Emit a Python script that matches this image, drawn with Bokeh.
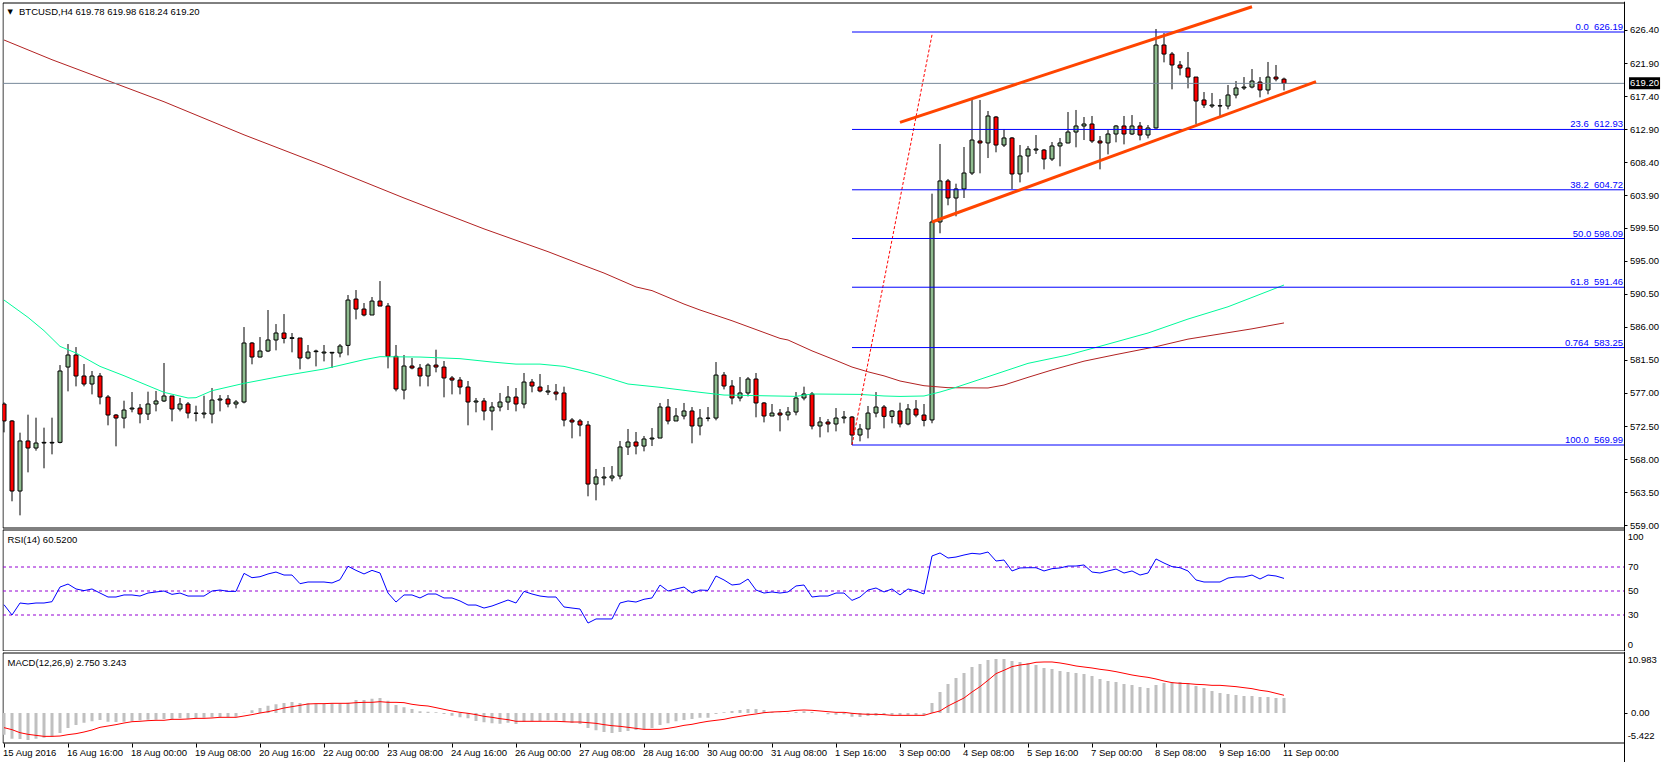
from bokeh.core.properties import value
from bokeh.embed import file_html
from bokeh.resources import INLINE
from bokeh.plotting import figure
from bokeh.layouts import column
from bokeh.models import (ColumnDataSource, FixedTicker, Label, LabelSet, LinearAxis, Range1d,
                          NumeralTickFormatter)

opens = [575.57,573.26,563.73,570.54,569.58,570.26,570.26,570.35,580.60,582.24,
 579.38,578.29,579.38,576.52,574.07,573.66,574.89,575.02,574.21,575.57,
 575.98,576.66,574.89,575.57,574.30,574.21,574.21,576.11,576.25,575.57,
 575.84,583.87,581.96,582.78,584.28,585.23,584.50,584.55,581.83,582.69,
 582.51,582.51,582.51,583.55,589.85,588.49,587.68,589.58,588.90,582.05,
 577.47,580.74,580.47,579.38,580.87,580.60,579.11,578.83,577.88,575.84,
 575.98,574.62,575.16,575.84,576.52,575.57,578.56,577.88,577.20,577.20,
 577.07,573.39,573.26,572.71,564.68,565.50,565.50,565.77,569.72,570.40,
 569.85,570.81,570.94,575.16,573.26,573.94,574.62,572.58,573.62,573.66,
 579.51,578.02,576.39,577.07,578.97,575.71,573.94,574.34,574.07,574.48,
 576.39,576.93,572.58,573.12,572.85,573.66,573.80,571.35,572.17,574.34,
 575.16,573.89,574.62,572.85,574.89,574.07,573.40,600.34,605.92,603.60,
 604.83,607.00,611.36,611.09,614.62,610.81,611.77,606.87,609.32,610.13,
 610.13,608.91,610.68,611.09,612.58,613.40,613.67,611.36,611.09,612.31,
 613.40,612.31,613.40,612.17,613.13,624.42,623.19,621.70,621.29,620.06,
 616.94,616.12,616.12,616.12,617.62,618.57,618.70,619.38,618.30,620.06,
 619.78]
closes = [573.26,563.73,570.54,569.58,570.26,570.35,570.35,580.06,582.24,579.38,
 578.29,579.38,576.52,574.07,573.66,574.75,575.02,574.21,575.57,575.98,
 576.66,574.89,575.57,574.34,574.34,574.34,576.11,576.25,575.57,575.84,
 583.87,581.96,582.78,584.28,585.23,584.50,584.59,581.83,582.64,582.78,
 582.64,582.60,583.46,589.72,588.49,587.68,589.58,588.90,582.05,577.61,
 580.74,580.47,579.38,580.87,580.60,579.11,578.83,577.88,575.84,575.98,
 574.62,575.16,575.84,576.52,575.57,578.56,578.02,577.34,577.34,576.93,
 573.39,573.12,572.71,564.68,565.64,565.64,565.77,569.72,570.40,569.85,
 570.81,570.94,575.16,573.26,573.94,574.62,572.58,573.66,573.66,579.51,
 578.02,576.39,577.07,578.97,575.71,573.94,574.34,574.07,574.48,576.39,
 576.93,572.58,573.12,572.85,573.66,573.80,571.35,572.17,574.34,575.16,
 573.89,574.62,572.85,574.89,574.07,573.35,600.34,605.92,603.60,604.83,
 607.00,611.49,611.09,614.76,610.81,611.77,606.87,609.32,610.27,610.27,
 608.91,610.68,611.09,612.58,613.40,613.67,611.36,611.09,612.31,613.40,
 612.31,613.40,612.17,613.13,624.42,623.19,621.70,621.29,620.06,616.80,
 616.26,616.26,616.16,617.62,618.57,618.70,619.52,618.30,620.06,619.79,
 619.20]
highs = [575.80,573.39,571.67,574.12,573.71,572.35,573.71,580.87,583.73,583.32,
 581.01,580.06,579.79,576.79,574.21,576.02,577.20,575.57,577.25,577.34,
 581.15,576.66,576.39,575.84,575.34,576.70,577.75,576.79,576.79,576.11,
 586.04,584.00,584.68,588.36,586.45,587.81,585.23,584.55,583.60,582.96,
 583.60,582.64,583.73,590.40,591.08,589.31,590.13,592.30,589.31,583.60,
 582.24,581.83,581.01,581.10,582.96,581.42,579.38,579.24,578.70,576.39,
 576.39,575.84,577.07,578.02,577.75,579.79,578.97,579.65,578.15,578.29,
 577.93,573.66,573.53,573.26,566.73,567.00,567.13,570.54,572.17,571.76,
 571.22,572.30,575.71,576.25,575.02,575.71,575.16,574.89,575.16,581.28,
 579.92,578.83,579.24,579.24,579.79,575.84,575.57,574.89,575.16,577.20,
 577.93,577.20,573.80,573.53,575.02,574.62,573.94,572.85,575.30,577.20,
 575.43,574.75,575.75,575.57,576.11,575.57,604.19,610.95,606.19,605.55,
 610.54,616.94,616.94,615.44,614.76,612.99,611.90,610.81,610.68,612.17,
 610.27,611.22,611.77,615.30,615.58,614.62,614.76,612.04,612.85,613.53,
 614.76,614.89,613.94,613.53,626.60,626.05,623.47,622.24,623.47,620.06,
 618.02,617.89,617.07,618.98,619.52,620.06,621.15,620.06,622.11,621.70,
 619.98]
lows = [571.71,562.33,560.42,566.27,569.22,566.82,568.72,570.22,577.29,577.97,
 577.97,576.88,575.52,572.67,569.81,572.26,574.44,572.94,573.39,574.57,
 575.84,573.21,574.57,573.62,573.21,573.62,572.94,574.57,575.12,574.98,
 575.66,580.97,581.92,582.64,582.87,583.82,582.60,580.29,581.65,580.69,
 581.37,580.47,581.92,582.19,587.09,587.50,587.68,588.90,580.42,577.29,
 576.20,580.29,577.97,577.97,579.88,576.48,576.88,576.88,572.67,574.44,
 573.35,571.99,574.57,574.75,574.57,574.98,577.16,577.16,576.79,576.07,
 572.53,570.90,571.17,563.01,562.46,564.50,565.05,565.32,568.63,568.72,
 569.13,569.85,570.94,572.80,573.26,573.48,570.22,571.31,573.21,573.35,
 577.56,575.52,575.93,576.61,573.76,573.07,573.94,571.85,573.35,574.03,
 576.07,572.12,571.03,571.71,571.85,572.94,569.99,570.49,570.90,573.76,
 572.26,572.94,572.39,572.67,573.76,572.53,572.95,598.80,602.61,601.11,
 603.60,606.73,606.96,609.04,609.82,610.54,604.83,605.73,607.09,609.59,
 607.50,608.64,607.91,611.04,610.50,611.49,611.09,607.50,609.54,611.18,
 610.90,612.17,611.45,611.72,613.04,622.06,618.39,620.29,618.52,613.67,
 615.85,615.85,614.76,615.67,617.16,618.30,618.52,617.30,617.71,619.48,
 618.24]

rsi_values = [38.6,30.0,40.0,39.2,40.0,40.0,41.1,53.3,55.8,51.7,
 50.3,51.7,48.3,45.0,45.0,46.7,46.7,45.8,48.3,49.2,
 50.0,47.2,48.3,45.8,45.8,45.8,50.0,50.8,49.7,49.7,
 64.7,61.1,61.9,64.2,65.8,63.3,63.3,56.1,57.5,57.5,
 57.5,56.7,59.4,70.6,67.2,64.2,67.2,65.0,48.3,40.8,
 46.7,46.7,44.2,47.5,47.5,44.2,44.2,41.7,38.3,38.3,
 35.8,37.5,40.0,42.5,40.0,49.7,47.5,45.8,45.0,45.0,
 36.7,35.8,35.0,23.3,26.7,26.7,26.7,40.0,41.7,40.8,
 43.1,44.2,55.0,50.0,51.7,53.3,48.3,50.8,50.5,62.5,
 59.2,55.0,55.8,60.0,50.8,48.3,49.2,48.3,49.2,54.2,
 55.0,45.0,45.8,45.8,48.3,48.3,42.2,45.0,50.8,52.5,
 49.2,51.7,46.7,51.7,50.0,47.5,79.2,81.7,77.5,78.3,
 80.0,81.4,80.8,82.5,75.0,75.8,66.7,69.2,69.4,69.4,
 66.7,68.6,69.2,70.8,70.8,71.7,65.8,65.0,66.7,68.3,
 65.0,66.7,63.3,65.0,76.7,73.3,70.3,69.4,66.7,59.2,
 57.5,57.5,57.5,60.8,61.7,61.7,63.3,60.0,63.3,62.5,
 60.52]

macd_hist = [-3.96,-4.70,-4.76,-4.94,-4.70,-4.51,-4.33,-3.66,-2.74,-2.20,
 -1.77,-1.52,-1.28,-1.59,-1.65,-1.59,-1.46,-1.34,-1.22,-1.22,
 -1.10,-1.16,-0.98,-1.04,-0.91,-0.85,-0.79,-0.79,-0.73,-0.67,
 0.06,0.49,0.91,1.34,1.59,1.83,2.01,1.83,1.77,1.65,
 1.65,1.77,1.77,1.89,2.38,2.38,2.62,2.74,2.26,1.46,
 1.04,0.73,0.30,0.24,0.12,-0.18,-0.49,-0.79,-0.98,-1.46,
 -1.71,-1.89,-1.95,-1.77,-2.01,-1.59,-1.52,-1.46,-1.34,-1.34,
 -1.65,-1.83,-2.01,-2.74,-3.17,-3.48,-3.66,-3.48,-3.29,-3.11,
 -2.99,-2.74,-2.20,-1.89,-1.52,-1.28,-1.10,-0.85,-0.85,-0.18,
 0.12,0.37,0.55,0.73,0.73,0.55,0.18,0.06,-0.06,0.18,
 0.30,0.18,0.00,-0.24,-0.30,-0.24,-0.67,-0.73,-0.55,-0.49,
 -0.37,-0.37,-0.37,-0.37,-0.37,-0.37,1.83,3.84,5.31,6.40,
 7.32,8.41,8.96,9.70,9.88,9.88,9.51,9.33,9.15,8.78,
 8.23,8.05,7.68,7.50,7.32,7.13,6.77,6.22,5.85,5.67,
 5.31,5.12,4.76,4.57,5.12,5.49,5.67,5.67,5.49,4.94,
 4.57,4.02,3.66,3.48,3.29,3.11,3.11,2.93,2.93,2.74,
 2.75]
macd_signal = [-2.68,-3.05,-3.60,-3.90,-4.09,-4.27,-4.27,-4.21,-3.96,-3.78,
 -3.48,-3.11,-2.62,-2.38,-2.13,-1.83,-1.59,-1.52,-1.40,-1.34,
 -1.34,-1.16,-1.16,-1.10,-0.98,-0.98,-0.91,-0.79,-0.79,-0.79,
 -0.55,-0.30,0.00,0.24,0.55,0.91,1.16,1.40,1.65,1.71,
 1.71,1.77,1.77,1.77,1.89,1.95,1.95,2.07,1.95,1.95,
 1.89,1.59,1.40,1.28,0.98,0.67,0.37,0.12,-0.06,-0.30,
 -0.61,-0.79,-1.04,-1.22,-1.52,-1.52,-1.52,-1.52,-1.52,-1.52,
 -1.59,-1.65,-1.65,-1.77,-1.89,-2.13,-2.32,-2.44,-2.62,-2.81,
 -2.99,-2.99,-2.99,-2.81,-2.56,-2.26,-2.07,-1.77,-1.52,-1.34,
 -1.16,-0.85,-0.61,-0.37,-0.18,0.06,0.18,0.24,0.30,0.49,
 0.55,0.49,0.37,0.24,0.12,0.12,-0.06,-0.18,-0.24,-0.24,
 -0.30,-0.43,-0.43,-0.43,-0.43,-0.43,0.00,0.37,1.28,2.01,
 2.74,3.84,4.82,5.98,7.20,7.81,8.48,8.78,8.96,9.27,
 9.33,9.33,9.15,8.90,8.60,8.41,8.23,7.99,7.81,7.56,
 7.26,6.95,6.71,6.52,6.22,5.85,5.55,5.43,5.37,5.24,
 5.18,5.06,5.06,4.94,4.82,4.63,4.45,4.15,3.96,3.60,
 3.24]

# moving averages: vertices (bar index, price)
slow_ma_bars = [0,6,20,30,40,50,60,68,72,75,79,81,85,87,91,93,97,98,101,104,106,108,110,112,115,118,123,125,128,131,135,139,144,148,152,156,160]
slow_ma_vals = [625.10,622.42,616.7,612.2,608.0,603.6,599.4,596.3,594.62,593.39,591.5,591.0,589.17,588.36,586.9,586.1,584.5,584.28,582.8,581.5,580.6,579.95,579.4,578.70,578.06,577.79,577.75,578.15,579.2,580.2,581.4,582.3,583.37,584.4,585.1,585.8,586.6]
fast_ma_bars = [0,3,5,7,9,12,15,18,20,23,24,26,30,35,40,45,47,52,57,61,64,67,70,73,75,78,82,87,90,99,101,107,110,112,115,117,119,124,128,133,137,143,148,153,160]
fast_ma_vals = [589.72,587.36,585.55,583.41,582.51,580.69,579.42,578.06,577.16,576.39,576.43,577.38,578.38,579.42,580.33,581.60,582.01,581.96,581.74,581.28,581.0,581.0,580.69,579.92,579.3,578.29,577.84,577.16,576.79,576.61,576.93,576.88,576.66,576.6,576.66,577.2,577.84,579.65,581.1,582.24,583.42,585.23,587.13,588.8,591.76]

fib_prices = [626.19,612.93,604.72,598.09,591.46,583.25,569.99]
fib_labels = ["0.0\u00a0\u00a0626.19","23.6\u00a0\u00a0612.93","38.2\u00a0\u00a0604.72","50.0 598.09",
              "61.8\u00a0\u00a0591.46","0.764\u00a0\u00a0583.25","100.0\u00a0\u00a0569.99"]
fib_start_bar = 106
fib_trend_bars = [106,116]
fib_trend_vals = [569.99,625.80]
channel_upper_bars = [112,156]
channel_upper_vals = [613.90,629.63]
channel_lower_bars = [116,164]
channel_lower_vals = [600.34,619.43]
last_price = 619.20

price_ticks = [626.40,621.90,617.40,612.90,608.40,603.90,599.50,595.00,590.50,586.00,581.50,577.00,572.50,568.00,563.50,559.00]
rsi_levels = [70,50,30]
time_ticks = [0,8,16,24,32,40,48,56,64,72,80,88,96,104,112,120,128,136,144,152,160]
time_labels = ["15 Aug 2016","16 Aug 16:00","18 Aug 00:00","19 Aug 08:00","20 Aug 16:00","22 Aug 00:00",
 "23 Aug 08:00","24 Aug 16:00","26 Aug 00:00","27 Aug 08:00","28 Aug 16:00","30 Aug 00:00","31 Aug 08:00",
 "1 Sep 16:00","3 Sep 00:00","4 Sep 08:00","5 Sep 16:00","7 Sep 00:00","8 Sep 08:00","9 Sep 16:00","11 Sep 00:00"]

assert all(len(a) == 161 for a in (opens, closes, highs, lows, rsi_values, macd_hist, macd_signal))

bars = list(range(161))
FONT = "Liberation Sans"
FS = "9.5px"
BAR_PX = 8
XS = (2 - 3.5) / BAR_PX      # frame start
XL = -0.125                  # left border of the panels
XA = 202.5                   # value axis position
XE = (1662 - 3.5) / BAR_PX   # frame end
x_range = Range1d(XS, XE)


def panel(h, y0, y1, xtop, xbot, **kw):
    f = figure(width=1660, height=h, x_range=x_range, y_range=Range1d(y0, y1), min_border=0,
               toolbar_location=None, output_backend="svg", x_axis_location=None, y_axis_location=None,
               outline_line_color=None, **kw)
    f.grid.visible = False
    f.line([XL, XA], [xtop, xtop], line_color="black", line_width=1)
    f.line([XL, XA], [xbot, xbot], line_color="black", line_width=1)
    f.line([XL, XL], [xbot, xtop], line_color="black", line_width=1)
    return f


def right_axis(f, ticks, standoff=3, tick_out=3, minor=None, fmt=None, overrides=None):
    ax = LinearAxis(fixed_location=XA, ticker=FixedTicker(ticks=ticks, minor_ticks=minor or []),
                    major_tick_out=tick_out, major_tick_in=0, minor_tick_out=3, minor_tick_in=0,
                    axis_line_color="black", major_tick_line_color="black", minor_tick_line_color="black",
                    major_label_standoff=standoff, major_label_text_font=FONT, major_label_text_font_size=FS,
                    major_label_text_color="black")
    if fmt:
        ax.formatter = fmt
    if overrides:
        ax.major_label_overrides = overrides
    f.add_layout(ax, "right")


def label(f, x, y, text, dx=0, dy=0, color="black", align="left", base="middle", **kw):
    f.add_layout(Label(x=x, y=y, x_offset=dx, y_offset=dy, text=text, text_align=align, text_baseline=base,
                       text_color=color, text_font=kw.pop("font", FONT), text_font_size=kw.pop("size", FS), **kw))


# ---- price panel
PXU = 7.349
P_TOP, P_BOT = 626.19 + 29 / PXU, 626.19 - 496 / PXU
p = panel(529, 626.19 - 498.5 / PXU, 626.19 + 30.5 / PXU, P_TOP, P_BOT)
right_axis(p, price_ticks, fmt=NumeralTickFormatter(format="0.00"))

body_top = [max(a, b) for a, b in zip(opens, closes)]
body_bot = [min(a, b) for a, b in zip(opens, closes)]
colors = ["#8FBC8F" if c > o else "#FF0000" for o, c in zip(opens, closes)]
src = ColumnDataSource(dict(x=bars, h=highs, l=lows, t=body_top, b=body_bot, c=colors))
p.segment("x", "l", "x", "h", source=src, line_color="black", line_width=1)
p.vbar("x", 0.5, "t", "b", source=src, fill_color="c", line_color="black", line_width=1)

p.line(slow_ma_bars, slow_ma_vals, line_color="#B22222", line_width=1)
p.line(fast_ma_bars, fast_ma_vals, line_color="#00FA9A", line_width=1)
p.line([XL, XA], [last_price, last_price], line_color="#778899", line_width=1)
p.line(fib_trend_bars, fib_trend_vals, line_color="#FF0000", line_width=1, line_dash=[3, 2])
p.segment(x0=[fib_start_bar] * len(fib_prices), y0=fib_prices, x1=[XA] * len(fib_prices), y1=fib_prices,
          line_color="#0000FF", line_width=1)
p.line(channel_upper_bars, channel_upper_vals, line_color="#FF4500", line_width=3)
p.line(channel_lower_bars, channel_lower_vals, line_color="#FF4500", line_width=3)

for val, txt in zip(fib_prices, fib_labels):
    label(p, XA, val, txt, dx=-1, color="#0000FF", align="right", base="bottom")
label(p, XL, P_TOP, "\u25BC", dx=4.5, dy=-8.5, font="DejaVu Sans", size="7px")
label(p, XL, P_TOP, "BTCUSD,H4  619.78 619.98 618.24 619.20", dx=16, dy=-8.5)
label(p, XA, last_price, "619.20", dx=5, color="white", background_fill_color="black", padding=(1, 3))

# ---- RSI panel
RXU = 1.2
r = panel(123, 70 - 84.5 / RXU, 70 + 38.5 / RXU, 70 + 37 / RXU, 70 - 84 / RXU,
          background_fill_color=None, border_fill_color=None, margin=(-2, 0, 0, 0))
right_axis(r, rsi_levels, standoff=4, tick_out=0, fmt=NumeralTickFormatter(format="0"))
for lvl in rsi_levels:
    r.line([XL, XA], [lvl, lvl], line_color="#9400D3", line_width=1, line_dash=[3, 3])
r.line(bars, rsi_values, line_color="#0000FF", line_width=1)
R_TOP, R_BOT = 70 + 37 / RXU, 70 - 84 / RXU
label(r, XL, R_TOP, "RSI(14) 60.5200", dx=4.5, dy=-9.5)
label(r, XA, R_TOP, "100", dx=3.7, dy=-6.5)
label(r, XA, R_BOT, "0", dx=3.7, dy=6.5)

# ---- MACD panel
MXU = 5.468
M_TOP, M_BOT = 60 / MXU, -30 / MXU
m = panel(111, -49.5 / MXU, 61.5 / MXU, M_TOP, M_BOT)
right_axis(m, [0], standoff=4, tick_out=0, minor=[0], overrides={0: "0.00"})
m.vbar(bars, 0.375, macd_hist, 0, fill_color="#C0C0C0", line_color=None)
m.line(bars, macd_signal, line_color="#FF0000", line_width=1)
label(m, XL, M_TOP, "MACD(12,26,9) 2.750 3.243", dx=4.5, dy=-9.5)
label(m, XA, M_TOP, "10.983", dx=3.7, dy=-6.8)
label(m, XA, M_BOT, "-5.422", dx=3.7, dy=6.8)
xax = LinearAxis(fixed_location=M_BOT, ticker=FixedTicker(ticks=[], minor_ticks=time_ticks), major_tick_out=0,
                 major_tick_in=0, minor_tick_out=4, minor_tick_in=0, axis_line_color=None,
                 minor_tick_line_color="black", major_label_text_font=FONT, major_label_text_font_size=FS)
m.add_layout(xax, "below")
m.add_layout(LabelSet(x="x", y="y", text="t", x_offset=-1, y_offset=-9.5, text_align="left", text_baseline="middle",
                      text_color="black", text_font=value(FONT), text_font_size=value(FS),
                      source=ColumnDataSource(dict(x=time_ticks, y=[M_BOT] * len(time_ticks), t=time_labels))))

page = column(p, r, m, spacing=0, margin=(1, 0, 0, 2))
open("out.html", "w").write(file_html(page, INLINE))
